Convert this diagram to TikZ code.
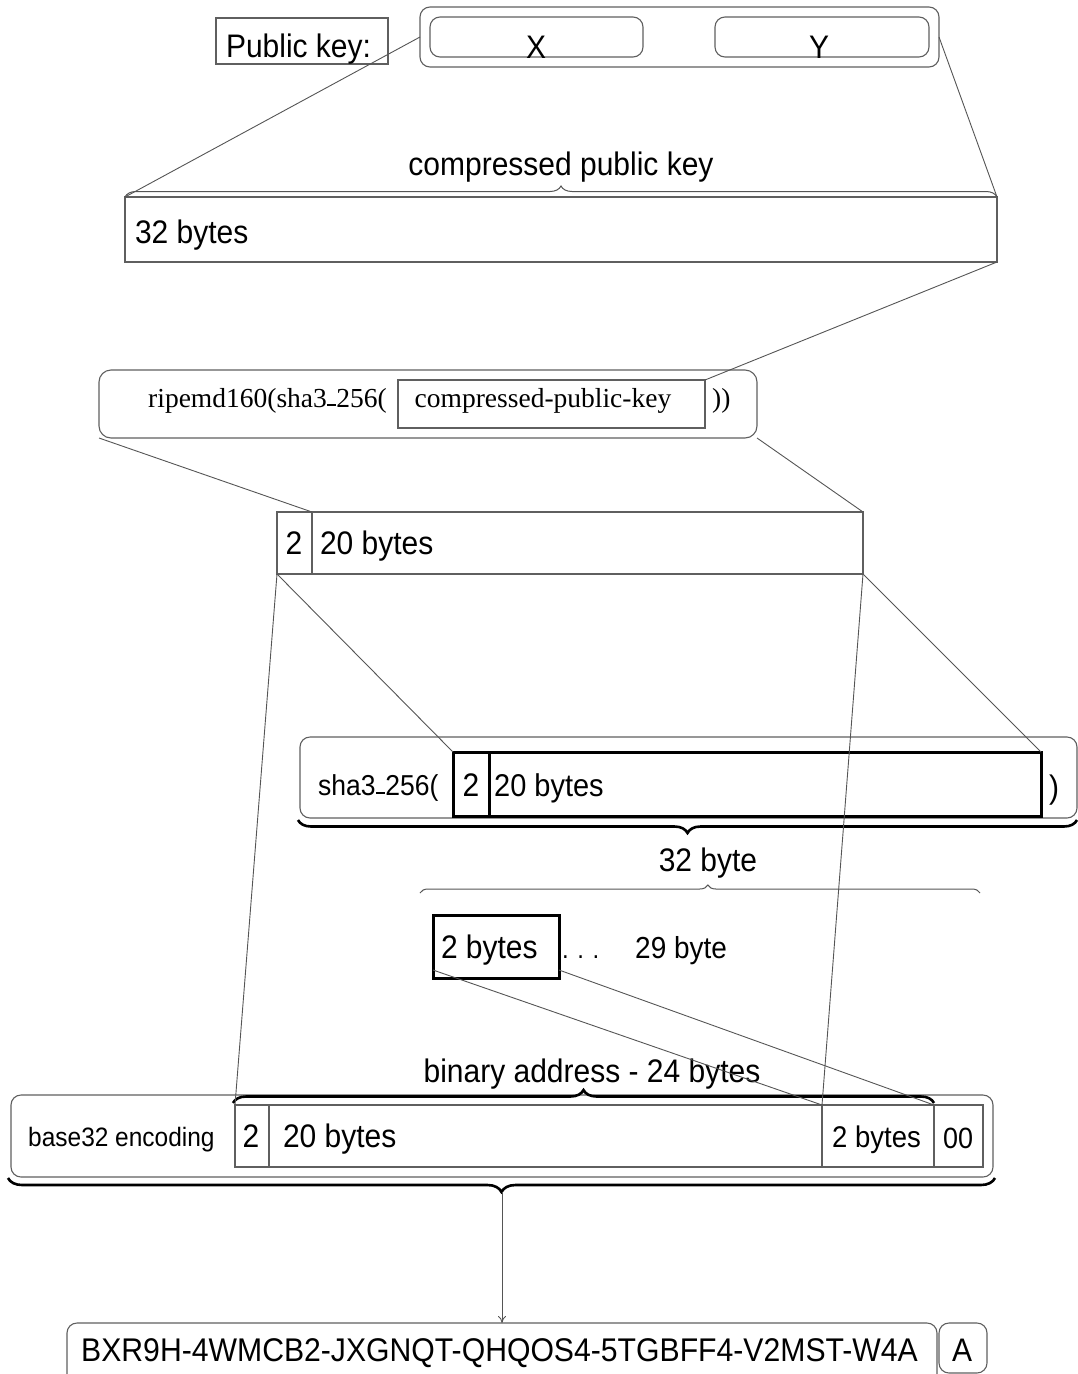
\documentclass[tikz,border=0pt]{standalone}
\usepackage{fontspec}
\setmainfont{Liberation Sans}[FakeStretch=0.92]
\newfontfamily\timesfont{Liberation Serif}
\usetikzlibrary{fit,decorations.pathreplacing,arrows.meta}

\definecolor{boxgray}{RGB}{95,95,95}
\definecolor{linegray}{RGB}{85,85,85}

% short dash sitting on the baseline, as in "sha3-256"
\newcommand\lowbar{\kern0.02em\rule[0.03em]{0.3em}{0.07em}\kern0.02em}
\newcommand\fs[1]{\fontsize{#1}{#1}\selectfont}

\tikzset{
  box/.style={draw=boxgray, line width=1.1pt, inner sep=0pt, outer sep=0pt},
  rbox/.style={box, rounded corners=10pt},
  heavybox/.style={draw=black, line width=3pt, inner sep=0pt, outer sep=0pt},
  link/.style={draw=linegray, line width=0.9pt},
  lbl/.style={inner sep=0pt, outer sep=0pt, font=\fs{32.6}},
  thinbrace/.style={draw=linegray, line width=1pt, decorate,
    decoration={brace, amplitude=#1}},
  boldbrace/.style={draw=black, line width=2.6pt, decorate,
    decoration={brace, amplitude=#1}},
}

\begin{document}
\begin{tikzpicture}[x=1pt,y=-1pt]
\useasboundingbox (0,0) rectangle (1078,1374);
\clip (0,0) rectangle (1078,1374);

% ---- public key (X, Y)
\node[box, fit={(216,18) (388,64)}] (pklabel) {};
\node[lbl, anchor=base west] (pktxt) at (226,57) {Public key:};
\node[rbox, fit={(420,7) (939,67)}] (pk) {};
\node[rbox, fit={(430,17) (643,57)}] (xbox) {};
\node[rbox, fit={(715,17) (929,57)}] (ybox) {};
\node[lbl, anchor=base] (xtxt) at (536,58) {X};
\node[lbl, anchor=base] (ytxt) at (819,58) {Y};

% ---- compressed public key
\node[box, fit={(125,197) (997,262)}] (cpk) {};
\node[lbl, anchor=base west] (cpktxt) at (135,243) {32 bytes};
\draw[thinbrace=11] (cpk.north west) -- (cpk.north east);
\node[lbl, anchor=base] (cpkname) at (561,175) {compressed public key};
\draw[link] (pk.west) -- (cpk.north west);
\draw[link] (pk.east) -- (cpk.north east);

% ---- ripemd160(sha3-256(...))
\node[rbox, rounded corners=12pt, fit={(99,370) (757,438)}] (ripe) {};
\node[box, fit={(398,380) (705,428)}] (cpkin) {};
\node[inner sep=0pt, anchor=base west, font=\timesfont\fs{27.5}] (ripetxt) at (148,407) {ripemd160(sha3\lowbar 256(};
\node[inner sep=0pt, anchor=base, font=\timesfont\fs{27.5}] (cpkintxt) at (543,407) {compressed-public-key};
\node[inner sep=0pt, anchor=base west, font=\timesfont\fs{27.5}] (ripeend) at (712,407) {))};
\draw[link] (cpk.south east) -- (cpkin.north east);

% ---- 2 | 20 bytes
\node[box, fit={(277,512) (312,574)}] (h2) {};
\node[box, fit={(312,512) (863,574)}] (h20) {};
\node[lbl, anchor=base] (h2txt) at (294,554) {2};
\node[lbl, anchor=base west] (h20txt) at (320,554) {20 bytes};
\draw[link] (ripe.south west) -- (h20.north west);
\draw[link] (ripe.south east) -- (h20.north east);

% ---- sha3-256( 2 | 20 bytes )
\node[rbox, fit={(300,737) (1077,818)}] (sha) {};
\node[heavybox, fit={(453,752) (489,816)}] (sha2) {};
\node[heavybox, fit={(489,752) (1041,816)}] (sha20) {};
\node[inner sep=0pt, anchor=base west, font=\fs{28.8}] (shatxt) at (318,795) {sha3\lowbar 256(};
\node[lbl, anchor=base] (sha2txt) at (471,796) {2};
\node[inner sep=0pt, anchor=base west, font=\fs{31.5}] (sha20txt) at (494,796) {20 bytes};
\node[lbl, anchor=base west] (shaend) at (1049,798) {)};
\draw[link] (h2.south west) -- (sha2.north west);
\draw[link] (h20.south east) -- (sha20.north east);
\draw[boldbrace=13] (1077,820) -- (298,820);
\node[lbl, anchor=base] (sha32) at (708,871) {32 byte};

% ---- checksum bytes
\draw[thinbrace=8, decoration={aspect=0.514}] (420,893) -- (980,893);
\node[heavybox, fit={(433,915) (559,978)}] (two) {};
\node[lbl, anchor=base west] (twotxt) at (441,958) {2 bytes};
\node[lbl, anchor=base west, font=\fs{26}] (dots) at (562,958) {.\,\,.\,\,.};
\node[inner sep=0pt, anchor=base west, font=\fs{30.4}] (rest) at (635,958) {29 byte};

% ---- binary address
\node[rbox, fit={(11,1095) (993,1177)}] (base) {};
\node[box, fit={(235,1105) (269,1167)}] (a2) {};
\node[box, fit={(269,1105) (822,1167)}] (a20) {};
\node[box, fit={(822,1105) (934,1167)}] (acs) {};
\node[box, fit={(934,1105) (983,1167)}] (a00) {};
\node[inner sep=0pt, anchor=base west, font=\fs{26.6}] (basetxt) at (28,1146) {base32 encoding};
\node[lbl, anchor=base] (a2txt) at (251,1147) {2};
\node[lbl, anchor=base west] (a20txt) at (283,1147) {20 bytes};
\node[inner sep=0pt, anchor=base west, font=\fs{29.9}] (acstxt) at (832,1147) {2 bytes};
\node[inner sep=0pt, anchor=base, font=\fs{29.3}] (a00txt) at (958,1148) {00};
\draw[boldbrace=13] (233,1103) -- (934,1103);
\node[lbl, anchor=base] (addrname) at (592,1082) {binary address - 24 bytes};

\draw[link] (h2.south west) -- (a2.north west);
\draw[link] (h20.south east) -- (acs.north west);
\draw[link] ([yshift=8pt]two.south west) -- (acs.north west);
\draw[link] ([yshift=8pt]two.south east) -- (a00.north west);

% ---- textual address
\draw[boldbrace=14] (995,1178) -- (8,1178);
\coordinate (btip) at (502,1192);
\node[rbox, fit={(67,1323) (937,1390)}] (fin) {};
\node[rbox, fit={(939,1323) (987,1373)}] (fa) {};
\node[inner sep=0pt, anchor=base west, font=\fs{32.8}] (fintxt) at (81,1361) {BXR9H-4WMCB2-JXGNQT-QHQOS4-5TGBFF4-V2MST-W4A};
\node[lbl, anchor=base] (fatxt) at (962,1361) {A};
\draw[link, -{To[length=7pt,width=8pt]}] (btip) -- (fin.north);
\end{tikzpicture}
\end{document}
